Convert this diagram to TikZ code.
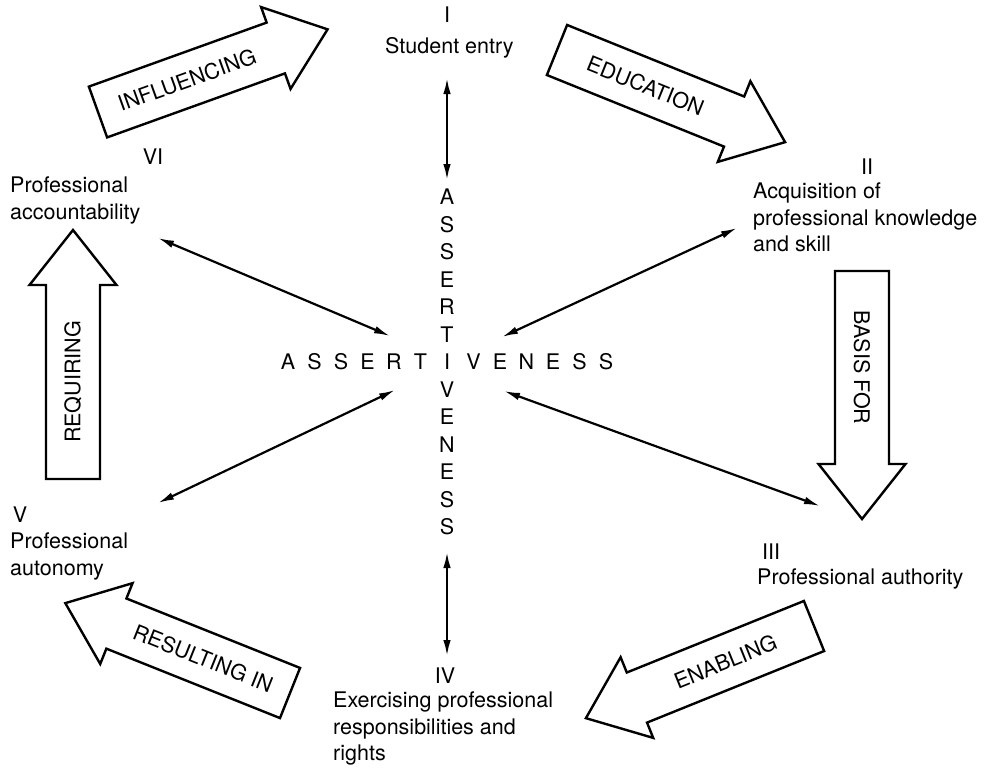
\documentclass[tikz,border=0pt]{standalone}
\usepackage{fontspec}
\setmainfont{TeX Gyre Heros}
\usetikzlibrary{arrows.meta}

% shaft half-width, head half-width and head length of the block arrows
\newcommand{\shaftw}{27}
\newcommand{\headw}{43.5}
\newcommand{\headl}{55}

% \blockarrow{name}{tail x}{tail y}{direction}{length}{label}{label rotation}
\newcommand{\blockarrow}[7]{%
  \begin{scope}[shift={(#2,#3)}, rotate=#4]
    \draw[blockline] (0,-\shaftw) -- ({#5-\headl},-\shaftw) -- ({#5-\headl},-\headw)
      -- (#5,0) -- ({#5-\headl},\headw) -- ({#5-\headl},\shaftw) -- (0,\shaftw) -- cycle;
    \node[arrowlabel, rotate=#7] (#1) at ({(#5-\headl)/2},0) {#6};
  \end{scope}}

\tikzset{
  txt/.style={font=\fontsize{21.5}{26.5}\selectfont, inner sep=0pt},
  blockline/.style={draw=black, line width=2.4pt, fill=white, line join=miter},
  arrowlabel/.style={txt},
  letter/.style={txt, anchor=center},
  station/.style={txt, align=left, anchor=north west},
  numeral/.style={txt, anchor=base},
  link/.style={line width=2.2pt, {Latex[length=16pt,width=7.5pt]}-{Latex[length=16pt,width=7.5pt]}},
}

\begin{document}
\begin{tikzpicture}[x=1pt, y=-1pt]
  \useasboundingbox (0,0) rectangle (992,774);

  % the six stages
  \node[numeral] (n1) at (447,22) {I};
  \node[station] (s1) at (385,37) {Student entry};
  \node[numeral] (n2) at (867,174) {II};
  \node[station] (s2) at (753,183) {Acquisition of\\professional knowledge\\and skill};
  \node[numeral] (n3) at (771,559) {III};
  \node[station] (s3) at (757,569) {Professional authority};
  \node[numeral] (n4) at (445,683) {IV};
  \node[station] (s4) at (333,692) {Exercising professional\\responsibilities and\\rights};
  \node[numeral] (n5) at (20,522) {V};
  \node[station] (s5) at (10,533) {Professional\\autonomy};
  \node[numeral] (n6) at (153,164) {VI};
  \node[station] (s6) at (10,177) {Professional\\accountability};

  % the cross of letters, sharing the central I
  \foreach \l [count=\i] in {A,S,S,E,R,T,I,V,E,N,E,S,S} {
    \node[letter] (v\i) at (447, {362+27.5*(\i-7)}) {\l};
    \ifnum\i=7\relax\else
      \node[letter] (h\i) at ({447+26.5*(\i-7)}, 362) {\l};
    \fi
  }

  % ends of the two-headed links
  \coordinate (t1a) at (447,78);   \coordinate (t1b) at (447,180);
  \coordinate (t4a) at (447,552);  \coordinate (t4b) at (447,656);
  \coordinate (t2a) at (737,228);  \coordinate (t2b) at (502,337);
  \coordinate (t3a) at (504,391);  \coordinate (t3b) at (820,506);
  \coordinate (t5a) at (158,503);  \coordinate (t5b) at (395,390);
  \coordinate (t6a) at (158,238);  \coordinate (t6b) at (390,336);

  \draw[link] (t1a) -- (t1b);
  \draw[link] (t4a) -- (t4b);
  \draw[link] (t2a) -- (t2b);
  \draw[link] (t3a) -- (t3b);
  \draw[link] (t5a) -- (t5b);
  \draw[link] (t6a) -- (t6b);

  % block arrows between the stages
  \blockarrow{influencing}{98}{112}{19.8}{244}{INFLUENCING}{19.8}
  \blockarrow{education}{557}{50}{-22}{246}{EDUCATION}{-22}
  \blockarrow{basis}{862}{271}{-90}{248}{BASIS FOR}{-90}
  \blockarrow{enabling}{814}{626}{202}{246}{ENABLING}{22}
  \blockarrow{resulting}{290}{693}{158.2}{242}{RESULTING IN}{-21.8}
  \blockarrow{requiring}{73}{479}{90}{249}{REQUIRING}{90}
\end{tikzpicture}
\end{document}
